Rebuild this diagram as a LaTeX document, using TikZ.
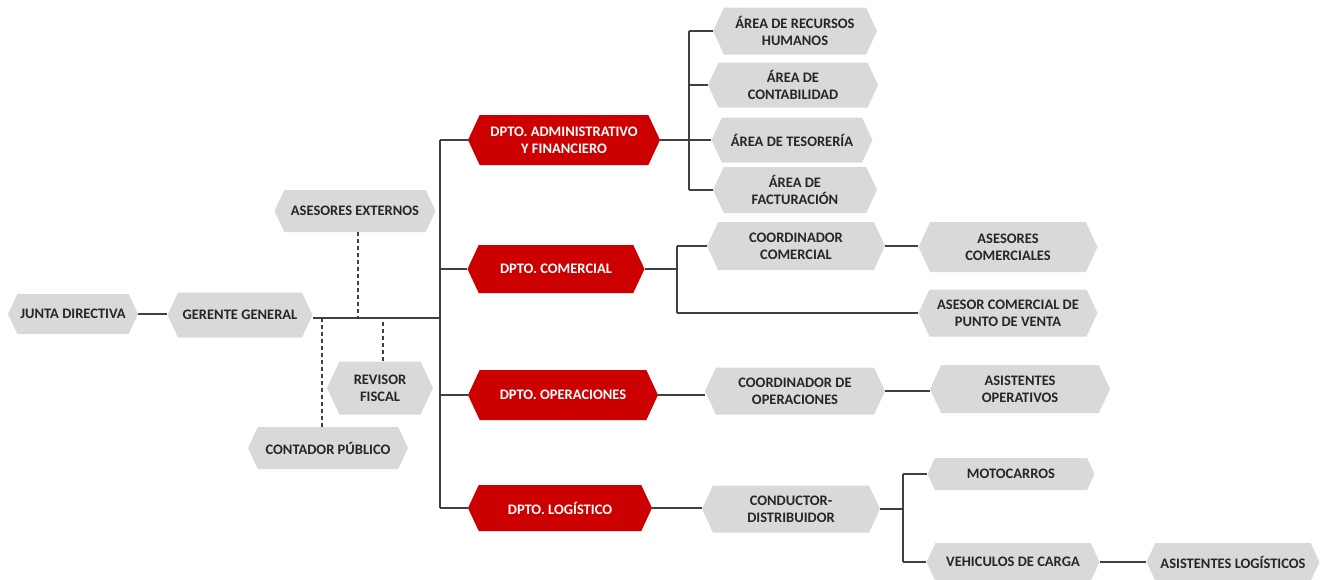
\documentclass[tikz,border=0pt]{standalone}
\usepackage{fontspec}
\setmainfont{Carlito}
\usetikzlibrary{shapes.symbols}
\definecolor{boxgray}{HTML}{D9D9D9}
\definecolor{dptred}{HTML}{CC0000}
\definecolor{txtgray}{HTML}{262626}
\definecolor{linegray}{HTML}{404040}
\begin{document}
\begin{tikzpicture}[x=1pt,y=-1pt,
  hexa/.style={signal, signal to=west and east, signal pointer angle=130,
    fill=boxgray, text=txtgray, font=\bfseries\fontsize{14.5}{17}\selectfont,
    align=center, inner sep=0pt},
  dptbox/.style={hexa, fill=dptred, text=white},
  conn/.style={draw=linegray, line width=1.2pt},
  dconn/.style={draw=linegray, line width=1.2pt, dash pattern=on 4pt off 3pt}]
\useasboundingbox (0,0) rectangle (1328,579);
% left side
\node[hexa, minimum width=130, minimum height=40] (junta) at (73,314) {JUNTA DIRECTIVA};
\node[hexa, minimum width=145, minimum height=45] (gerente) at (240,315) {GERENTE GENERAL};
\node[hexa, minimum width=161, minimum height=42] (asext) at (355,211) {ASESORES EXTERNOS};
\node[hexa, minimum width=106, minimum height=53] (revisor) at (380,388) {REVISOR\\FISCAL};
\node[hexa, minimum width=160, minimum height=42] (contador) at (328,448) {CONTADOR PÚBLICO};
% departments
\node[dptbox, minimum width=192, minimum height=50] (dadm) at (564,140) {DPTO. ADMINISTRATIVO\\Y FINANCIERO};
\node[dptbox, minimum width=177, minimum height=48] (dcom) at (556,269) {DPTO. COMERCIAL};
\node[dptbox, minimum width=190, minimum height=50] (dope) at (563,395) {DPTO. OPERACIONES};
\node[dptbox, minimum width=184, minimum height=46] (dlog) at (560,508) {DPTO. LOGÍSTICO};
% admin areas
\node[hexa, minimum width=164, minimum height=47] (rrhh) at (795,31) {ÁREA DE RECURSOS\\HUMANOS};
\node[hexa, minimum width=170, minimum height=45] (conta) at (793,85) {ÁREA DE\\CONTABILIDAD};
\node[hexa, minimum width=161, minimum height=45] (teso) at (792,140) {ÁREA DE TESORERÍA};
\node[hexa, minimum width=164, minimum height=46] (fact) at (795,190) {ÁREA DE\\FACTURACIÓN};
% comercial
\node[hexa, minimum width=178, minimum height=48] (coordcom) at (796,246) {COORDINADOR\\COMERCIAL};
\node[hexa, minimum width=179, minimum height=50] (asescom) at (1008,247) {ASESORES\\COMERCIALES};
\node[hexa, minimum width=179, minimum height=47] (asespv) at (1008,313) {ASESOR COMERCIAL DE\\PUNTO DE VENTA};
% operaciones
\node[hexa, minimum width=180, minimum height=47] (coordope) at (795,391) {COORDINADOR DE\\OPERACIONES};
\node[hexa, minimum width=180, minimum height=48] (asisope) at (1020,389) {ASISTENTES\\OPERATIVOS};
% logistico
\node[hexa, minimum width=178, minimum height=47] (cond) at (791,509) {CONDUCTOR-\\DISTRIBUIDOR};
\node[hexa, minimum width=167, minimum height=32] (moto) at (1011,474) {MOTOCARROS};
\node[hexa, minimum width=173, minimum height=38] (veh) at (1013,562) {VEHICULOS DE CARGA};
\node[hexa, minimum width=173, minimum height=38] (asislog) at (1233,562) {ASISTENTES LOGÍSTICOS};
% coordinates
\coordinate (hline) at (440,318);
\coordinate (trunkTop) at (440,140);
\coordinate (trunkBot) at (440,508);
\coordinate (admTop) at (689,31);
\coordinate (admBot) at (689,190);
\coordinate (comTop) at (677,246);
\coordinate (comBot) at (677,313);
\coordinate (logTop) at (903,474);
\coordinate (logBot) at (903,562);
% connectors
\draw[conn] (junta.east) -- (junta.east -| gerente.west);
\draw[conn] (gerente.east |- hline) -- (hline);
\draw[conn] (trunkTop) -- (trunkBot);
\draw[conn] (dadm.west -| trunkTop) -- (dadm.west);
\draw[conn] (dcom.west -| trunkTop) -- (dcom.west);
\draw[conn] (dope.west -| trunkTop) -- (dope.west);
\draw[conn] (dlog.west -| trunkTop) -- (dlog.west);
\draw[dconn] ([xshift=3pt]asext.south) -- ([xshift=3pt]asext.south |- hline);
\draw[dconn] ([xshift=3pt]revisor.north) -- ([xshift=3pt]revisor.north |- hline);
\draw[dconn] ([xshift=-6pt]contador.north) -- ([xshift=-6pt]contador.north |- hline);
% admin bracket
\draw[conn] (admTop) -- (admBot);
\draw[conn] (dadm.east) -- (dadm.east -| admTop);
\draw[conn] (rrhh.west -| admTop) -- (rrhh.west);
\draw[conn] (conta.west -| admTop) -- (conta.west);
\draw[conn] (teso.west -| admTop) -- (teso.west);
\draw[conn] (fact.west -| admTop) -- (fact.west);
% comercial bracket
\draw[conn] (comTop) -- (comBot);
\draw[conn] (dcom.east) -- (dcom.east -| comTop);
\draw[conn] (coordcom.west -| comTop) -- (coordcom.west);
\draw[conn] (asespv.west -| comTop) -- (asespv.west);
\draw[conn] (coordcom.east) -- (coordcom.east -| asescom.west);
% operaciones
\draw[conn] (dope.east) -- (dope.east -| coordope.west);
\draw[conn] (coordope.east) -- (coordope.east -| asisope.west);
% logistico
\draw[conn] (dlog.east) -- (dlog.east -| cond.west);
\draw[conn] (logTop) -- (logBot);
\draw[conn] (cond.east) -- (cond.east -| logTop);
\draw[conn] (moto.west -| logTop) -- (moto.west);
\draw[conn] (veh.west -| logTop) -- (veh.west);
\draw[conn] (veh.east) -- (asislog.west);
\end{tikzpicture}
\end{document}
